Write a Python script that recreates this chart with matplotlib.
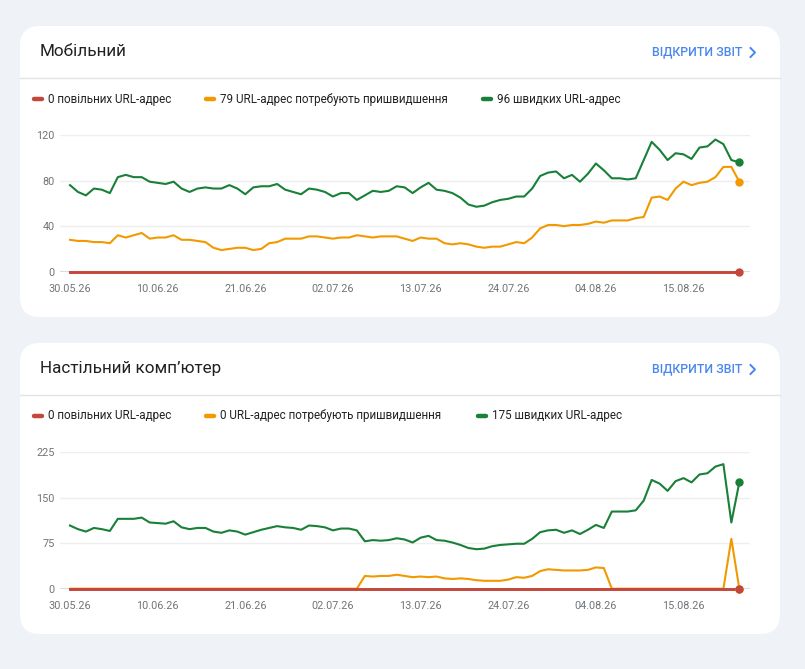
import matplotlib
matplotlib.use("Agg")
import matplotlib.pyplot as plt
import matplotlib.dates as mdates
from matplotlib.patches import FancyBboxPatch
import numpy as np
import pandas as pd

plt.rcParams['font.family'] = ['Roboto', 'DejaVu Sans']

W, H = 805, 669

dates = pd.date_range('2026-05-30', periods=85, freq='D')

# Мобільний
mob_good = [76, 70, 67, 73, 72, 69, 83, 85, 83, 83, 79, 78, 77, 79, 73, 70, 73, 74, 73, 73,
            76, 73, 68, 74, 75, 75, 77, 72, 70, 68, 73, 72, 70, 66, 69, 69, 63, 67, 71, 70,
            71, 75, 74, 69, 74, 78, 72, 71, 69, 65, 59, 57, 58, 61, 63, 64, 66, 66, 73, 84,
            87, 88, 82, 85, 79, 86, 95, 89, 82, 82, 81, 82, 98, 114, 107, 98, 104, 103, 99, 109,
            110, 116, 112, 98, 96]
mob_ni = [28, 27, 27, 26, 26, 25, 32, 30, 32, 34, 29, 30, 30, 32, 28, 28, 27, 26, 21, 19,
          20, 21, 21, 19, 20, 25, 26, 29, 29, 29, 31, 31, 30, 29, 30, 30, 32, 31, 30, 31,
          31, 31, 29, 27, 30, 29, 29, 25, 24, 25, 24, 22, 21, 22, 22, 24, 26, 25, 30, 38,
          41, 41, 40, 41, 41, 42, 44, 43, 45, 45, 45, 47, 48, 65, 66, 63, 73, 79, 76, 78,
          79, 83, 92, 92, 79]
mob_poor = [0] * 85

# Настільний комп'ютер
desk_good = [104, 98, 94, 100, 98, 95, 115, 115, 115, 117, 109, 108, 107, 111, 101, 98, 100, 100, 94, 92,
             96, 94, 89, 93, 97, 100, 103, 101, 100, 97, 104, 103, 101, 96, 99, 99, 96, 78, 80, 79,
             80, 83, 81, 76, 84, 87, 80, 79, 76, 72, 67, 65, 66, 70, 72, 73, 74, 74, 82, 93,
             96, 97, 92, 96, 90, 97, 105, 100, 127, 127, 127, 129, 145, 179, 173, 161, 177, 182, 175, 188,
             190, 201, 205, 109, 175]
desk_ni = [0] * 37 + [21, 20, 21, 21, 23,
           21, 19, 20, 19, 20, 17, 16, 17, 16, 14, 13, 13, 13, 15, 19, 18, 21, 29,
           32, 31, 30, 30, 30, 31, 35, 34] + [0] * 15 + [82, 0]
desk_poor = [0] * 85

panels = [
    dict(title='Мобільний', top=26, ticks=[0, 40, 80, 120], ymax=120,
         good=mob_good, ni=mob_ni, poor=mob_poor,
         legend=['0 повільних URL-адрес', '79 URL-адрес потребують пришвидшення', '96 швидких URL-адрес'],
         legend_x=[33, 205, 482]),
    dict(title='Настільний комп\u2019ютер', top=343, ticks=[0, 75, 150, 225], ymax=225,
         good=desk_good, ni=desk_ni, poor=desk_poor,
         legend=['0 повільних URL-адрес', '0 URL-адрес потребують пришвидшення', '175 швидких URL-адрес'],
         legend_x=[33, 205, 477]),
]

RED = '#c5463a'
ORANGE = '#f29900'
GREEN = '#188038'
GRAY_TXT = '#70757a'
BLUE = '#4a86f0'

fig = plt.figure(figsize=(W / 100, H / 100), dpi=100)
fig.patch.set_facecolor('#eff2f7')

bg = fig.add_axes([0, 0, 1, 1])
bg.set_xlim(0, W)
bg.set_ylim(H, 0)
bg.axis('off')


def px_axes(x0, y0, x1, y1):
    return fig.add_axes([x0 / W, 1 - y1 / H, (x1 - x0) / W, (y1 - y0) / H])


day = pd.Timedelta(days=1)
for p in panels:
    t = p['top']
    card = FancyBboxPatch((20, t), 760, 291, boxstyle='round,pad=0,rounding_size=20',
                          facecolor='white', edgecolor='none')
    bg.add_patch(card)
    bg.plot([20, 780], [t + 52, t + 52], color='#e3e3e3', lw=1)
    bg.text(40, t + 25, p['title'], fontsize=12.3, color='#202124', va='center', ha='left')
    bg.text(742, t + 26, 'ВІДКРИТИ ЗВІТ', fontsize=8.9, color=BLUE, va='center', ha='right',
            fontweight='medium')
    bg.plot([750.5, 755, 750.5], [t + 22, t + 26.5, t + 31], color=BLUE, lw=1.4)
    for lx, lab, col in zip(p['legend_x'], p['legend'], [RED, ORANGE, GREEN]):
        bg.plot([lx + 1, lx + 9], [t + 73, t + 73], color=col, lw=3.2, solid_capstyle='round')
        bg.text(lx + 15, t + 73, lab, fontsize=8.4, color='#202124', va='center', ha='left')

    ax = px_axes(60, t + 109, 750, t + 245.7)
    ax.set_facecolor('none')
    ax.set_xlim(dates[0] - 1.255 * day, dates[-1] + 1.34 * day)
    ax.set_ylim(0, p['ymax'])
    for s in ax.spines.values():
        s.set_visible(False)
    for yv in p['ticks'][1:]:
        ax.axhline(yv, color='#eeeeee', lw=1, zorder=0)
    ax.axhline(0, color='#dadce0', lw=2.2, zorder=1)
    ax.set_yticks(p['ticks'])
    ax.set_xticks(dates[::11])
    ax.xaxis.set_major_formatter(mdates.DateFormatter('%d.%m.%y'))
    ax.tick_params(length=0, labelsize=7.8, labelcolor=GRAY_TXT)
    ax.tick_params(axis='y', pad=4)
    ax.tick_params(axis='x', pad=9)

    ax.plot(dates, p['good'], color=GREEN, lw=1.5, zorder=3, clip_on=False)
    ax.plot(dates, p['ni'], color=ORANGE, lw=1.5, zorder=3, clip_on=False)
    ax.plot(dates, p['poor'], color=RED, lw=2.1, zorder=4, clip_on=False)
    for series, col in [(p['good'], GREEN), (p['ni'], ORANGE), (p['poor'], RED)]:
        ax.plot(dates[-1:], series[-1:], 'o', color=col, ms=5, zorder=5, clip_on=False)

fig.savefig('out.png', dpi=100, facecolor=fig.get_facecolor())
